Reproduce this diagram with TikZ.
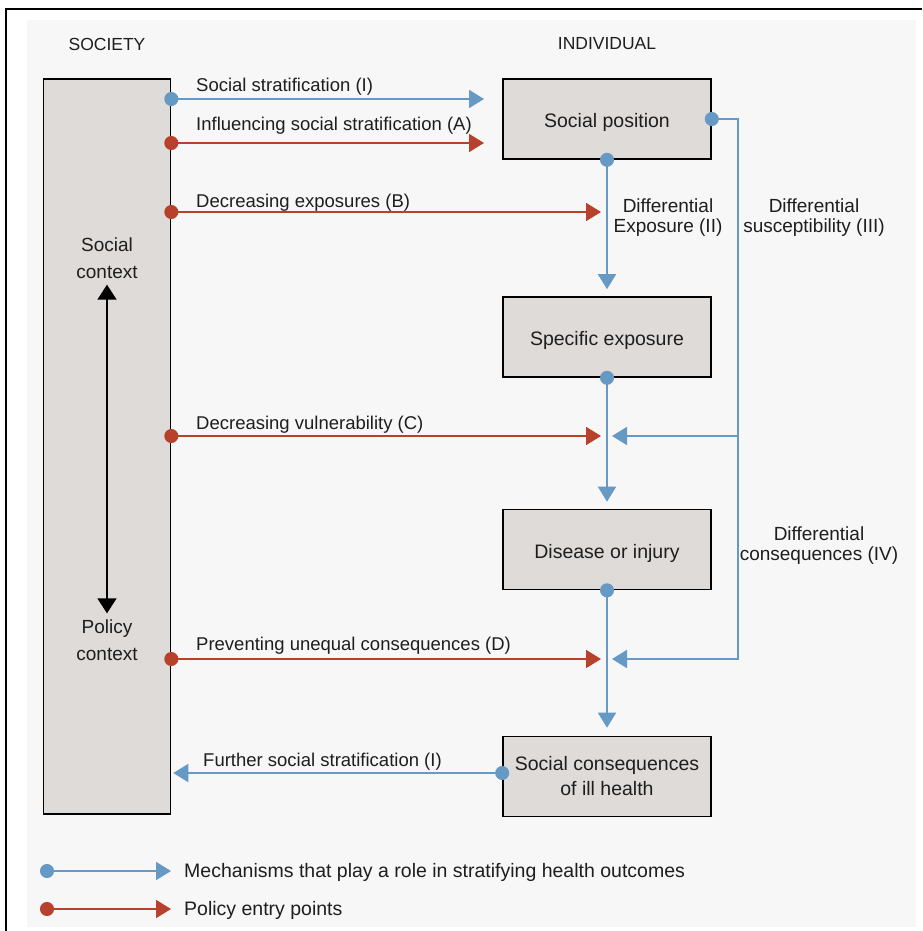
\documentclass[tikz,border=0pt]{standalone}
\usepackage{fontspec}
\setmainfont{Liberation Sans}
\usetikzlibrary{arrows.meta}

\definecolor{mechblue}{HTML}{6699C4}
\definecolor{policyred}{HTML}{B7412D}
\definecolor{boxgray}{HTML}{DFDBD8}
\definecolor{panelgray}{HTML}{F7F7F7}
\definecolor{inkgray}{HTML}{1E1E1E}

\begin{document}
\begin{tikzpicture}[
  x=1pt, y=-1pt,
  lbl/.style={font=\fontsize{18.5}{20}\selectfont, text=inkgray, inner sep=0pt},
  twoline/.style={lbl, font=\fontsize{19}{20}\selectfont, align=center},
  ctxlbl/.style={font=\fontsize{19}{27}\selectfont, text=inkgray, inner sep=0pt, align=center},
  stage/.style={draw=black, line width=1.6pt, fill=boxgray, minimum width=208pt,
    minimum height=80pt, align=center, inner sep=0pt, text=inkgray,
    font=\fontsize{19.5}{25}\selectfont},
  oneline/.style={text height=17pt, text depth=0pt},
  mech/.style={draw=mechblue, line width=1.8pt},
  policy/.style={draw=policyred, line width=1.8pt},
  tiponly/.style={-{Triangle[length=15pt,width=18pt]}},
  dotarrow/.style={{Circle[length=14pt]}-{Triangle[length=15pt,width=18pt]},
    shorten <=-7pt},
  duo/.style={draw=black, line width=1.6pt,
    {Triangle[length=15pt,width=19pt]}-{Triangle[length=15pt,width=19pt]}},
]

% ── Parameters (pixels of the figure) ────────────────────────────────────────
\def\xind{607}        % centre of the individual column
\def\xtipA{484}       % arrows that stop before social position
\def\xtipB{601}       % arrows that stop at the causal chain
\def\xrail{738}       % susceptibility / consequences rail
\def\xback{612}       % tips of the rail branches

% ── Frame and panel ───────────────────────────────────────────────────────────
\useasboundingbox (0,0) rectangle (922,931);
\fill[panelgray] (27,20) rectangle (916,927);
\draw[line width=1.6pt] (6,931) -- (6,9) -- (922,9);

% ── Column headings ───────────────────────────────────────────────────────────
\node[lbl, font=\fontsize{17.5}{20}\selectfont] (hsoc) at (107,44) {SOCIETY};
\node[lbl, font=\fontsize{17.5}{20}\selectfont] (hind) at (\xind,44) {INDIVIDUAL};

% ── Society column ────────────────────────────────────────────────────────────
\node[draw=black, line width=1.6pt, fill=boxgray, minimum width=127pt,
  minimum height=735pt, inner sep=0pt] (society) at (107,446.5) {};
\node[ctxlbl] (socctx) at (107,258) {Social\\context};
\node[ctxlbl] (polctx) at (107,640) {Policy\\context};
\draw[duo, shorten <=6pt, shorten >=6pt] (socctx.south) -- (polctx.north);

% ── Individual column (causal chain) ─────────────────────────────────────────
\node[stage, oneline] (pos)  at (\xind,119)   {Social position};
\node[stage, oneline] (spec) at (\xind,337)   {Specific exposure};
\node[stage, oneline] (dis)  at (\xind,549.5) {Disease or injury};
\node[stage] (cons) at (\xind,776.5) {Social consequences\\of ill health};

\draw[mech, dotarrow, shorten >=7pt] (pos.south)  -- (spec.north);
\draw[mech, dotarrow, shorten >=7pt] (spec.south) -- (dis.north);
\draw[mech, dotarrow, shorten >=8pt] (dis.south)  -- (cons.north);

\node[twoline] (lII) at (668,217.5) {Differential\\Exposure (II)};

% ── Differential susceptibility / consequences rail ──────────────────────────
\coordinate (railtop) at (\xrail,119);
\coordinate (railC)   at (\xrail,436);
\coordinate (railD)   at (\xrail,659);
\coordinate (backC)   at (\xback,436);
\coordinate (backD)   at (\xback,659);
\draw[mech, dotarrow] (pos.east) -- (railtop) -- (railD) -- (backD);
\draw[mech, tiponly] (railC) -- (backC);

\node[twoline] (lIII) at (814,218)   {Differential\\susceptibility (III)};
\node[twoline] (lIV)  at (819,545.5) {Differential\\consequences (IV)};

% ── Mechanisms and policy entry points from society ──────────────────────────
\coordinate (tipI) at (\xtipA,99);
\coordinate (tipA) at (\xtipA,143);
\coordinate (tipB) at (\xtipB,212);
\coordinate (tipC) at (\xtipB,436);
\coordinate (tipD) at (\xtipB,659);
\draw[mech, dotarrow]   (society.east |- tipI) -- (tipI);
\draw[policy, dotarrow] (society.east |- tipA) -- (tipA);
\draw[policy, dotarrow] (society.east |- tipB) -- (tipB);
\draw[policy, dotarrow] (society.east |- tipC) -- (tipC);
\draw[policy, dotarrow] (society.east |- tipD) -- (tipD);

\node[lbl, anchor=base west] (lI) at (196,92)  {Social stratification (I)};
\node[lbl, anchor=base west] (lA) at (196,131) {Influencing social stratification (A)};
\node[lbl, anchor=base west] (lB) at (196,207) {Decreasing exposures (B)};
\node[lbl, anchor=base west] (lC) at (196,429) {Decreasing vulnerability (C)};
\node[lbl, anchor=base west] (lD) at (196,650) {Preventing unequal consequences (D)};

% ── Feedback to society ───────────────────────────────────────────────────────
\coordinate (yback) at (0,773);
\draw[mech, dotarrow, shorten >=2pt] (cons.west |- yback) -- (society.east |- yback);
\node[lbl, anchor=base west] (lF) at (203,766) {Further social stratification (I)};

% ── Legend ────────────────────────────────────────────────────────────────────
\coordinate (legMa) at (47,871);
\coordinate (legMb) at (171,871);
\coordinate (legPa) at (47,909);
\coordinate (legPb) at (171,909);
\draw[mech, dotarrow]   (legMa) -- (legMb);
\draw[policy, dotarrow] (legPa) -- (legPb);
\node[lbl, anchor=base west, font=\fontsize{19.5}{20}\selectfont] (legM) at (184,877)
  {Mechanisms that play a role in stratifying health outcomes};
\node[lbl, anchor=base west, font=\fontsize{19.5}{20}\selectfont] (legP) at (184,915)
  {Policy entry points};

\end{tikzpicture}
\end{document}
